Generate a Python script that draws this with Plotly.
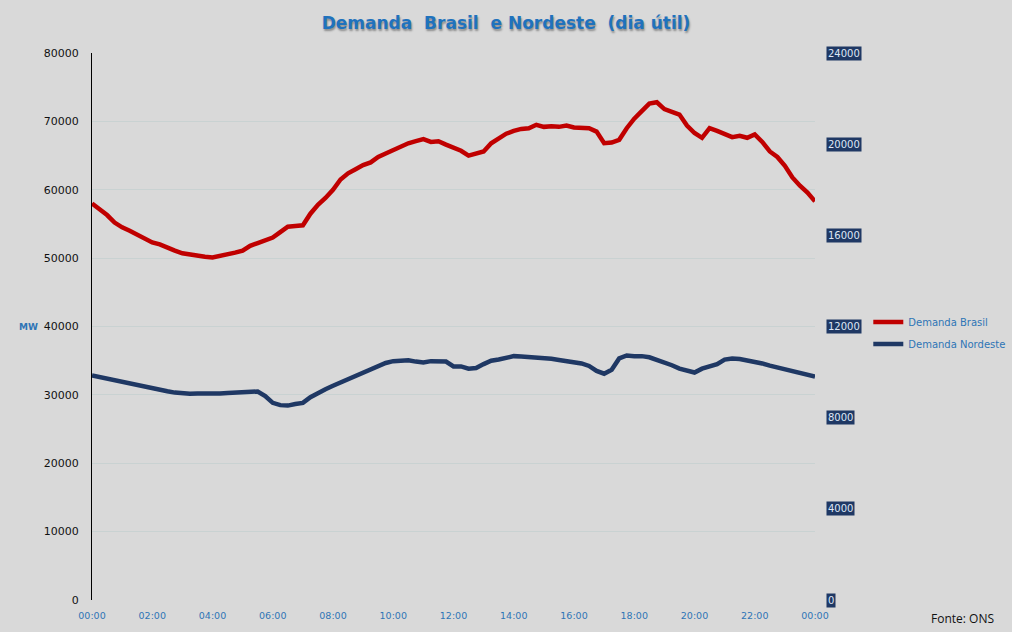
import plotly.graph_objects as go

# Horário a cada 15 minutos (horas desde 00:00)
hours = [i * 0.25 for i in range(97)]

# Demanda Brasil (MW) - eixo esquerdo
brasil = [
    58000, 57200, 56300, 55200, 54500, 54000, 53400, 52800,
    52300, 52000, 51500, 51100, 50700, 50500, 50300, 50200,
    50100, 50300, 50500, 50800, 51100, 51800, 52200, 52600,
    53000, 53800, 54600, 54700, 54800, 56500, 57800, 58800,
    60000, 61500, 62400, 63000, 63600, 64000, 64800, 65300,
    65800, 66300, 66800, 67100, 67400, 67000, 67100, 66600,
    66100, 65700, 65000, 65300, 65600, 66800, 67600, 68200,
    68600, 68900, 69000, 69500, 69200, 69300, 69200, 69400,
    69100, 69100, 69000, 68500, 66800, 66900, 67300, 69000,
    70400, 71500, 72600, 72800, 71800, 71400, 71000, 69400,
    68300, 67600, 69000, 68600, 68100, 67700, 67900, 67600,
    68100, 67000, 65600, 64800, 63500, 61800, 60600, 59600,
    58300,
]

# Demanda Nordeste (MW) - eixo direito
nordeste = [
    9850, 9780, 9700, 9620, 9560, 9480, 9400, 9330,
    9270, 9220, 9160, 9100, 9060, 9050, 9060, 9050,
    9070, 9060, 9080, 9100, 9080, 9110, 9150, 8950,
    8650, 8550, 8530, 8600, 8650, 8900, 9100, 9250,
    9400, 9550, 9700, 9850, 10000, 10150, 10300, 10400,
    10480, 10500, 10520, 10460, 10420, 10480, 10450, 10460,
    10250, 10250, 10150, 10180, 10350, 10500, 10550, 10650,
    10700, 10680, 10660, 10640, 10620, 10580, 10530, 10490,
    10460, 10380, 10270, 10050, 9930, 10100, 10600, 10730,
    10700, 10700, 10650, 10550, 10400, 10300, 10150, 10050,
    9980, 10150, 10250, 10350, 10550, 10600, 10570, 10520,
    10450, 10380, 10280, 10200, 10150, 10050, 9980, 9920,
    9800,
]

x_ticks = list(range(0, 25, 2))
x_labels = ["%02d:00" % (h % 24) for h in x_ticks]
right_ticks = [0, 4000, 8000, 12000, 16000, 20000, 24000]

BG = "#d9d9d9"
BLUE_TXT = "#2e75b6"
NAVY = "#1f3864"

fig = go.Figure()
fig.add_trace(go.Scatter(
    x=hours, y=brasil, mode="lines", name="Demanda Brasil",
    line=dict(color="#c00000", width=4.5), legendgroup="br",
))
fig.add_trace(go.Scatter(
    x=hours, y=nordeste, mode="lines", name="Demanda Nordeste",
    line=dict(color=NAVY, width=4.5), yaxis="y2", legendgroup="ne",
))

# rótulos do eixo direito com fundo azul-marinho
annotations = []
for v in right_ticks:
    annotations.append(dict(
        x=1.0152, xref="paper", y=v, yref="y2", text=str(v),
        showarrow=False, xanchor="left", yanchor="middle",
        bgcolor=NAVY, borderpad=1,
        font=dict(family="DejaVu Sans", size=10, color="#dde6f5"),
    ))
annotations.append(dict(
    x=-0.088, xref="paper", y=0.5, yref="paper", text="<b>MW</b>",
    showarrow=False, xanchor="center",
    font=dict(family="DejaVu Sans", size=9, color=BLUE_TXT),
))
annotations.append(dict(
    x=1.25, xref="paper", y=-0.033, yref="paper", text="Fonte: ONS",
    showarrow=False, xanchor="right", yanchor="middle",
    font=dict(family="Open Sans", size=12, color="#111111"),
))

fig.update_layout(
    width=1012, height=632,
    paper_bgcolor=BG, plot_bgcolor=BG,
    margin=dict(l=92, r=197, t=53, b=32),
    title=dict(
        text="<b>Demanda  Brasil  e Nordeste  (dia útil)</b>",
        x=0.5, xanchor="center", y=0.963, yanchor="middle",
        font=dict(family="DejaVu Sans", size=17, color="#1f72bd",
                  shadow="1px 2px 2px #8a8a8a"),
    ),
    xaxis=dict(
        range=[0, 24], tickvals=x_ticks, ticktext=x_labels,
        showgrid=False, zeroline=False, showline=False,
        tickfont=dict(family="DejaVu Sans", size=9.5, color=BLUE_TXT),
        ticks="", ticklabelstandoff=8,
    ),
    yaxis=dict(
        range=[0, 80000], dtick=10000, tickformat="d",
        showgrid=True, gridcolor="#c9d2d2", gridwidth=1,
        zeroline=False, showline=True, linecolor="black", linewidth=1,
        tickfont=dict(family="DejaVu Sans", size=11, color="#111111"),
        ticklabelstandoff=10,
    ),
    yaxis2=dict(
        range=[0, 24000], overlaying="y", side="right",
        showgrid=False, zeroline=False, showticklabels=False,
    ),
    legend=dict(
        xref="container", yref="container",
        x=0.858, y=0.473, xanchor="left", yanchor="middle",
        traceorder="grouped", tracegroupgap=3,
        bgcolor="rgba(0,0,0,0)", itemwidth=30,
        font=dict(family="DejaVu Sans", size=10, color=BLUE_TXT),
    ),
    annotations=annotations,
)

fig.write_html("out.html", config={"displayModeBar": False},
               post_script="document.body.style.margin='0';")
